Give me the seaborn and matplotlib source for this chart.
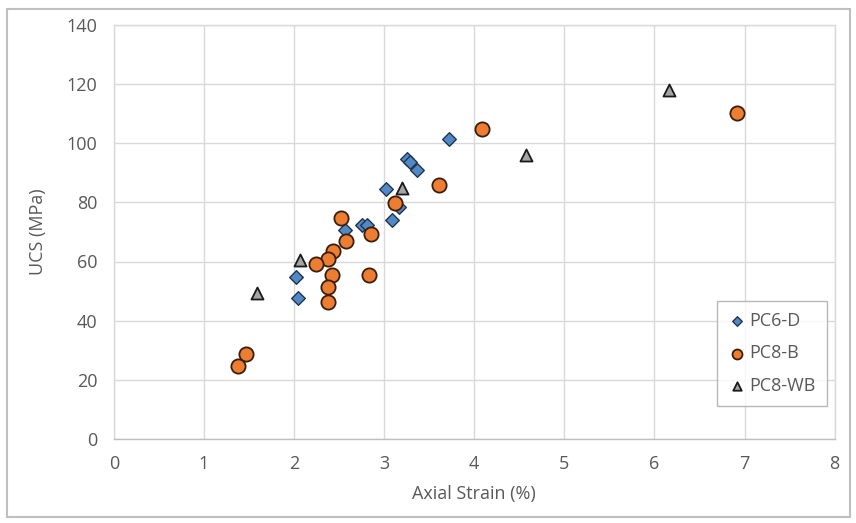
import matplotlib
matplotlib.use('Agg')
import matplotlib.pyplot as plt
import seaborn as sns
import pandas as pd
from matplotlib.patches import Rectangle

# Données : déformation axiale (%) et UCS (MPa)
pc6d_strain = [3.72, 3.25, 3.29, 3.37, 3.02, 3.17, 3.09, 2.75, 2.81, 2.57, 2.02, 2.04]
pc6d_ucs = [101.4, 94.6, 93.6, 90.8, 84.4, 78.4, 74.2, 72.2, 72.5, 70.8, 54.6, 47.8]

pc8b_strain = [6.92, 4.09, 3.61, 3.12, 2.52, 2.85, 2.58, 2.43, 2.38, 2.24, 2.42,
               2.83, 2.38, 2.38, 1.47, 1.38]
pc8b_ucs = [110.3, 104.9, 86.0, 79.9, 74.8, 69.4, 66.8, 63.7, 60.7, 59.2, 55.3,
            55.4, 51.5, 46.2, 28.7, 24.7]

pc8wb_strain = [6.16, 4.58, 3.20, 2.07, 1.59]
pc8wb_ucs = [118.0, 95.9, 84.9, 60.6, 49.3]

series_names = ['PC6-D', 'PC8-B', 'PC8-WB']
x_ticks = [0, 1, 2, 3, 4, 5, 6, 7, 8]
y_ticks = [0, 20, 40, 60, 80, 100, 120, 140]

sns.set_style('white')
plt.rcParams['font.family'] = ['Open Sans', 'DejaVu Sans']
text_color = '#595959'
grid_color = '#d9d9d9'

df6 = pd.DataFrame({'strain': pc6d_strain, 'ucs': pc6d_ucs})
df8b = pd.DataFrame({'strain': pc8b_strain, 'ucs': pc8b_ucs})
df8wb = pd.DataFrame({'strain': pc8wb_strain, 'ucs': pc8wb_ucs})

fig = plt.figure(figsize=(8.56, 5.23), dpi=100)
ax = fig.add_axes([0.133, 0.161, 0.842, 0.791])

sns.scatterplot(data=df6, x='strain', y='ucs', ax=ax, marker='D', s=48,
                color='#5289c4', edgecolor='#1f3550', linewidth=1.0,
                label=series_names[0], zorder=3)
sns.scatterplot(data=df8b, x='strain', y='ucs', ax=ax, marker='o', s=105,
                color='#ed7d31', edgecolor='#3a1e0c', linewidth=1.3,
                label=series_names[1], zorder=3)
sns.scatterplot(data=df8wb, x='strain', y='ucs', ax=ax, marker='^', s=75,
                color='#a5a5a5', edgecolor='#1a1a1a', linewidth=1.3,
                label=series_names[2], zorder=3)

ax.set_xlim(0, 8)
ax.set_ylim(0, 140)
ax.set_xticks(x_ticks)
ax.set_yticks(y_ticks)
ax.grid(True, color=grid_color, linewidth=1.0, zorder=0)
ax.set_axisbelow(True)
ax.tick_params(length=0, labelsize=13, colors=text_color, pad=12)
for side, sp in ax.spines.items():
    sp.set_color(grid_color)
    sp.set_linewidth(1.0)
ax.spines['bottom'].set_color('#bfbfbf')

ax.set_xlabel('Axial Strain (%)', fontsize=13, color=text_color, labelpad=8)
ax.set_ylabel('UCS (MPa)', fontsize=13, color=text_color, labelpad=14)

leg = ax.legend(loc='lower right', bbox_to_anchor=(0.989, 0.08),
                borderaxespad=0, fancybox=False, frameon=True,
                fontsize=13, markerscale=0.7, handletextpad=0.2,
                labelspacing=0.8, borderpad=0.6, handlelength=1.0)
leg.get_frame().set_edgecolor('#a6a6a6')
leg.get_frame().set_linewidth(1.0)
for t in leg.get_texts():
    t.set_color(text_color)

# Cadre extérieur du graphique
fig.patches.append(Rectangle((0.008, 0.012), 0.985, 0.97, transform=fig.transFigure,
                             fill=False, edgecolor='#bfbfbf', linewidth=1.5))

fig.savefig('out.png', dpi=100)
plt.close(fig)
